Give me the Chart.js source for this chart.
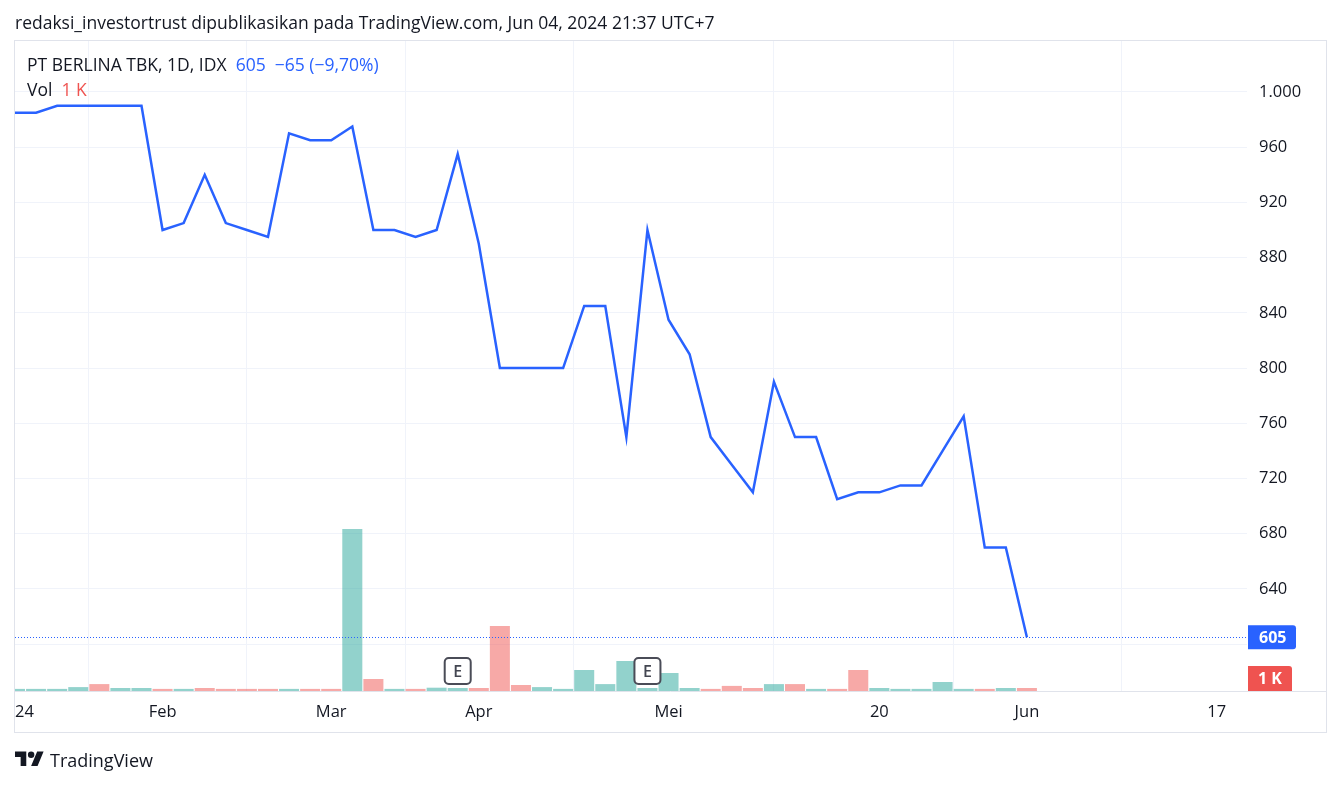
<!DOCTYPE html>
<html>
<head>
<meta charset="utf-8">
<script src="https://cdn.jsdelivr.net/npm/chart.js@4.4.1/dist/chart.umd.min.js"></script>
<style>
html,body{margin:0;padding:0;background:#fff;width:1341px;height:786px;overflow:hidden;font-family:"Open Sans",sans-serif;color:#131722}
#wrap{position:relative;width:1341px;height:786px}
#c{position:absolute;left:0;top:0}
.hdr{position:absolute;left:15px;top:10px;font-size:17.5px;line-height:24px;white-space:nowrap}
.leg{position:absolute;left:27px;font-size:17.5px;line-height:24px;white-space:nowrap}
.blue{color:#2962ff}
.red{color:#ef5350}
.cover{position:absolute;left:0;top:692px;width:14px;height:40px;background:#fff}
.frame{position:absolute;left:14px;top:40px;width:1313px;height:693px;box-sizing:border-box;border:1px solid #e0e3eb;pointer-events:none}
.logo{position:absolute;left:15px;top:748px}
.brand{position:absolute;left:50px;top:748px;font-size:18px;line-height:24px;color:#131722}
</style>
</head>
<body>
<div id="wrap">
  <canvas id="c" width="1341" height="786"></canvas>
  <div class="cover"></div>
  <div class="frame"></div>
  <div class="hdr">redaksi_investortrust dipublikasikan pada TradingView.com, Jun 04, 2024 21:37 UTC+7</div>
  <div class="leg" style="top:52px">PT BERLINA TBK, 1D, IDX&nbsp; <span class="blue">605&nbsp; −65 (−9,70%)</span></div>
  <div class="leg" style="top:77px">Vol&nbsp; <span class="red">1 K</span></div>
  <svg class="logo" width="29" height="23" viewBox="0 0 36 28"><path fill="#131722" d="M14 22H7V11H0V4h14v18zM28 22h-8l7.5-18h8L28 22z"/><circle fill="#131722" cx="20" cy="8" r="4"/></svg>
  <div class="brand">TradingView</div>
</div>
<script>
// ---- data (one entry per trading day shown on the chart) ----
const closePrices = [985, 985, 990, 990, 990, 990, 990, 900, 905, 940,
                     905, 900, 895, 970, 965, 965, 975, 900, 900, 895,
                     900, 955, 890, 800, 800, 800, 800, 845, 845, 750,
                     900, 835, 810, 750, 730, 710, 790, 750, 750, 705,
                     710, 710, 715, 715, 740, 765, 670, 670, 605];
const volumes = [700, 700, 700, 1300, 2300, 1000, 1000, 700, 700, 1000,
                 700, 700, 700, 700, 700, 700, 54000, 4000, 700, 700,
                 1100, 1000, 1000, 21700, 2000, 1300, 700, 7000, 2300, 10000,
                 1000, 6000, 1000, 700, 1700, 1000, 2300, 2300, 700, 700,
                 7000, 1000, 700, 700, 3000, 700, 700, 1000, 1000];
const volumeDirection = ['up','up','up','up','down','up','up','down','up','down',
                         'down','down','down','up','down','down','up','down','up','down',
                         'up','up','down','down','down','up','up','up','up','up',
                         'up','up','up','down','down','down','up','down','up','down',
                         'down','up','up','up','up','up','down','up','down'];
const tickIndex  = [0, 7, 15, 22, 31, 41, 48, 57];
const tickLabels = ['2024', 'Feb', 'Mar', 'Apr', 'Mei', '20', 'Jun', '17'];
const priceTicks = [600, 640, 680, 720, 760, 800, 840, 880, 920, 960, 1000];
const earningsIndex = [21, 30];
const lastPrice = 605;
const lastVolumeLabel = '1 K';

// ---- styling ----
const BLUE = '#2962ff', RED = '#ef5350';
const UP_VOL = 'rgba(38,166,154,0.5)', DOWN_VOL = 'rgba(239,83,80,0.5)';
const GRID = '#f0f3fa', TEXT = '#131722', FONT = '"Open Sans", sans-serif';

function fmt(v){ return String(v).replace(/\B(?=(\d{3})+(?!\d))/g, '.'); }

const overlay = {
  id: 'overlay',
  afterDatasetsDraw(chart){
    const {ctx, chartArea:a, scales} = chart;
    const y = scales.y.getPixelForValue(lastPrice);
    ctx.save();
    ctx.strokeStyle = BLUE; ctx.lineWidth = 1; ctx.setLineDash([1,2]);
    ctx.beginPath(); ctx.moveTo(a.left, Math.round(y)+0.5); ctx.lineTo(a.right, Math.round(y)+0.5); ctx.stroke();
    ctx.setLineDash([]);
    earningsIndex.forEach(k => {
      const cx = scales.x.getPixelForValue(k);
      const w = 26, h = 26, top = a.bottom - 7 - h;
      ctx.fillStyle = '#fff'; ctx.strokeStyle = '#4a4c57'; ctx.lineWidth = 2;
      ctx.beginPath(); ctx.roundRect(cx - w/2, top, w, h, 4); ctx.fill(); ctx.stroke();
      ctx.fillStyle = '#434651'; ctx.font = '600 16px ' + FONT;
      ctx.textAlign = 'center'; ctx.textBaseline = 'middle';
      ctx.fillText('E', cx, top + h/2 + 1);
    });
    ctx.restore();
  },
  afterDraw(chart){
    const {ctx, chartArea:a, scales} = chart;
    ctx.save();
    ctx.strokeStyle = '#e0e3eb'; ctx.lineWidth = 1;
    ctx.beginPath(); ctx.moveTo(a.left, a.bottom + 0.5); ctx.lineTo(1326, a.bottom + 0.5); ctx.stroke();
    const y = scales.y.getPixelForValue(lastPrice);
    ctx.fillStyle = BLUE;
    ctx.beginPath(); ctx.roundRect(a.right + 1, y - 12, 48, 24, [0,3,3,0]); ctx.fill();
    ctx.fillStyle = '#fff'; ctx.font = 'bold 16px ' + FONT; ctx.textAlign = 'left'; ctx.textBaseline = 'middle';
    ctx.fillText(fmt(lastPrice), a.right + 12, y + 1);
    ctx.fillStyle = RED;
    ctx.beginPath(); ctx.roundRect(a.right + 1, a.bottom - 25, 44, 25, [0,3,0,0]); ctx.fill();
    ctx.fillStyle = '#fff';
    ctx.fillText(lastVolumeLabel, a.right + 11, a.bottom - 12);
    ctx.restore();
  }
};

new Chart(document.getElementById('c'), {
  type: 'bar',
  data: {
    datasets: [
      {
        type: 'line',
        data: closePrices.map((v, i) => ({x: i, y: v})),
        borderColor: BLUE, borderWidth: 2.5, pointRadius: 0, tension: 0,
        yAxisID: 'y', order: 0, clip: 0
      },
      {
        type: 'bar',
        data: volumes.map((v, i) => ({x: i, y: v})),
        backgroundColor: volumeDirection.map(d => d === 'up' ? UP_VOL : DOWN_VOL),
        barPercentage: 0.95, categoryPercentage: 1,
        yAxisID: 'yVol', order: 1, clip: 0
      }
    ]
  },
  options: {
    responsive: false, animation: false, events: [],
    layout: {padding: {left: 15, top: 41, right: 15, bottom: 54}},
    plugins: {legend: {display: false}, tooltip: {enabled: false}},
    scales: {
      x: {
        type: 'linear', min: 0, max: 58.44, offset: false,
        afterBuildTicks: s => { s.ticks = tickIndex.map(v => ({value: v})); },
        afterFit: s => { s.height = 41; s.paddingLeft = 0; s.paddingRight = 0; },
        grid: {color: GRID, drawTicks: false},
        border: {display: false},
        ticks: {autoSkip: false, maxRotation: 0, padding: 11, color: TEXT,
                font: {family: FONT, size: 16.5},
                callback: v => tickLabels[tickIndex.indexOf(v)]}
      },
      y: {
        position: 'right', min: 566.1, max: 1036.9,
        afterBuildTicks: s => { s.ticks = priceTicks.map(v => ({value: v})); },
        afterFit: s => { s.width = 79; s.paddingTop = 0; s.paddingBottom = 0; },
        grid: {color: GRID, drawTicks: false},
        border: {display: false},
        ticks: {padding: 12, color: TEXT, font: {family: FONT, size: 16.5},
                callback: v => Math.abs(v - lastPrice) < 15 ? '' : fmt(v)}
      },
      yVol: {display: false, min: 0, max: 216700}
    }
  },
  plugins: [overlay]
});
</script>
</body>
</html>
